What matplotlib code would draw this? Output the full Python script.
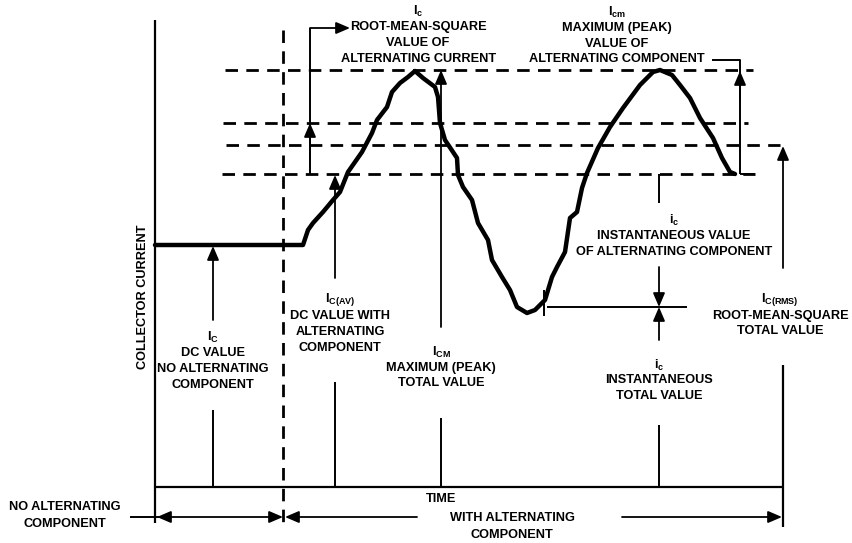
import matplotlib
matplotlib.use("Agg")
from matplotlib import pyplot as plt

plt.rcParams['font.family'] = ['Liberation Sans', 'DejaVu Sans']
plt.rcParams['font.weight'] = 'bold'
plt.rcParams['mathtext.fontset'] = 'custom'
plt.rcParams['mathtext.rm'] = 'Liberation Sans:bold'
plt.rcParams['mathtext.bf'] = 'Liberation Sans:bold'
plt.rcParams['mathtext.it'] = 'Liberation Sans:bold'
plt.rcParams['lines.scale_dashes'] = False

# collector current waveform (image pixel coords, y grows downward)
wave_x = [155, 303, 308, 313, 323, 333, 340, 348, 362, 372, 377, 387, 392, 400, 408, 415,
          423, 435, 438, 440, 445, 457, 458, 463, 472, 478, 488, 492, 502, 510, 517, 527,
          535, 545, 552, 557, 565, 570, 577, 582, 587, 598, 610, 623, 640, 653, 660, 672,
          680, 690, 700, 713, 722, 730, 735]
wave_y = [245, 245, 230, 223, 212, 200, 192, 172, 152, 133, 120, 107, 92, 83, 77, 71,
          78, 87, 97, 123, 140, 158, 175, 187, 200, 223, 240, 260, 277, 290, 307, 313,
          310, 300, 277, 267, 252, 218, 212, 188, 173, 148, 127, 108, 85, 72, 70, 75,
          85, 98, 118, 138, 158, 172, 174]

# dashed reference levels: peak, rms of ac, rms total, average
level_y = [70, 123, 145, 174]
level_x0 = [225, 223, 226, 222]
level_x1 = [753, 748, 780, 755]

fig = plt.figure(figsize=(8.53, 5.43), dpi=100)
ax = fig.add_axes([0, 0, 1, 1])
ax.set_xlim(0, 853)
ax.set_ylim(543, 0)
ax.axis('off')

K = 'black'
dash = (0, (9, 6))
FS = 9.2


def line(xs, ys, lw=1.4, **kw):
    ax.plot(xs, ys, color=K, lw=lw, solid_capstyle='butt', **kw)


def arrow(x0, y0, x1, y1, style='-|>'):
    ax.annotate('', xy=(x1, y1), xytext=(x0, y0),
                arrowprops=dict(arrowstyle=style + ',head_length=0.7,head_width=0.3',
                                mutation_scale=12, color=K, lw=1.3,
                                shrinkA=0, shrinkB=0))


def label(x, y, s, size=FS):
    ax.text(x, y, s, ha='center', va='center', fontsize=size, fontweight='bold', color=K)


# axes
line([155, 155], [20, 523], lw=1.6)
line([155, 782], [487, 487], lw=1.6)
line([283, 283], [30, 525], lw=2.0, linestyle=dash)

# dashed levels
for y, a, b in zip(level_y, level_x0, level_x1):
    line([a, b], [y, y], lw=2.0, linestyle=dash)

# waveform
ax.plot(wave_x, wave_y, color=K, lw=3.2, solid_joinstyle='round', solid_capstyle='round')

# I_C dc value
arrow(213, 320, 213, 246)
line([213, 213], [410, 487])
label(213, 337, r'$\mathregular{I_C}$')
label(213, 353, 'DC VALUE')
label(213, 369, 'NO ALTERNATING')
label(213, 385, 'COMPONENT')

# I_C(AV)
arrow(335, 278, 335, 175)
line([335, 335], [382, 487])
label(340, 300, r'$\mathregular{I_{C(AV)}}$')
label(340, 316, 'DC VALUE WITH')
label(340, 332, 'ALTERNATING')
label(340, 348, 'COMPONENT')

# I_c rms of alternating current
line([310, 310], [174, 28])
arrow(310, 160, 310, 123)
arrow(310, 28, 350, 28)
label(418, 11, r'$\mathregular{I_c}$')
label(418, 27, 'ROOT-MEAN-SQUARE')
label(418, 43, 'VALUE OF')
label(419, 59, 'ALTERNATING CURRENT')

# I_CM peak total
arrow(441, 327, 441, 70)
line([441, 441], [418, 487])
label(441, 352, r'$\mathregular{I_{CM}}$')
label(441, 368, 'MAXIMUM (PEAK)')
label(441, 383, 'TOTAL VALUE')

# I_cm peak of alternating component
line([712, 740, 740], [60, 60, 174])
line([740, 755], [174, 174])
arrow(740, 100, 740, 71)
label(617, 12, r'$\mathregular{I_{cm}}$')
label(617, 28, 'MAXIMUM (PEAK)')
label(617, 44, 'VALUE OF')
label(617, 59, 'ALTERNATING COMPONENT')

# i_c instantaneous values
line([659, 659], [174, 203])
label(674, 220, r'$\mathregular{i_c}$')
label(674, 236, 'INSTANTANEOUS VALUE')
label(674, 252, 'OF ALTERNATING COMPONENT')
arrow(659, 267, 659, 307)
arrow(659, 340, 659, 307)
line([547, 687], [307, 307])
line([544, 544], [290, 316])
line([659, 659], [425, 487])
label(659, 365, r'$\mathregular{i_c}$')
label(659, 380, 'INSTANTANEOUS')
label(659, 396, 'TOTAL VALUE')

# I_C(RMS) total
arrow(783, 268, 783, 146)
line([783, 783], [365, 527], lw=1.6)
label(780, 299, r'$\mathregular{I_{C(RMS)}}$')
label(780, 316, 'ROOT-MEAN-SQUARE')
label(780, 331, 'TOTAL VALUE')

# y axis title and time
ax.text(143, 297, 'COLLECTOR CURRENT', rotation=90, ha='center', va='center',
        fontsize=FS, fontweight='bold', color=K)
label(441, 499, 'TIME')

# bottom ranges
line([130, 160], [517, 517])
arrow(283, 517, 157, 517, style='<|-|>')
arrow(417, 517, 285, 517)
arrow(622, 517, 782, 517)
label(65, 507, 'NO ALTERNATING')
label(65, 524, 'COMPONENT')
label(512, 518, 'WITH ALTERNATING')
label(512, 535, 'COMPONENT')

fig.savefig('out.png', dpi=100, facecolor='white')
